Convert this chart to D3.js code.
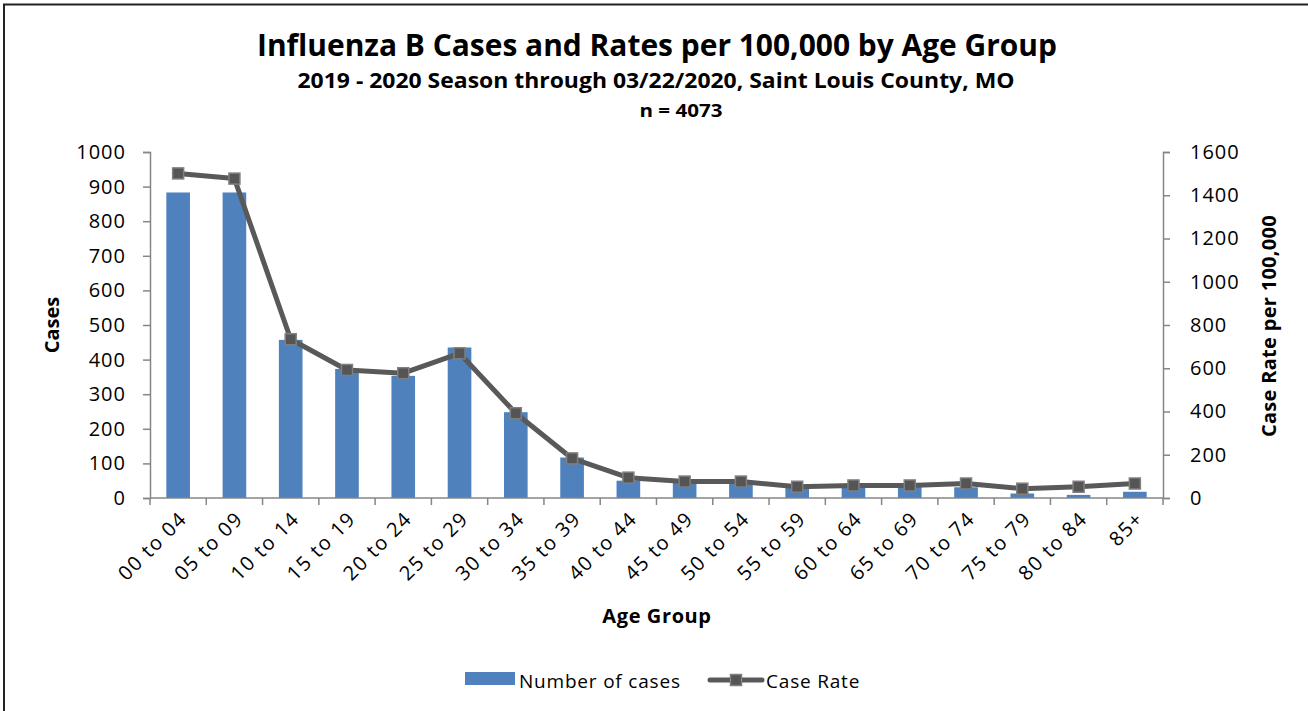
<!DOCTYPE html>
<html><head><meta charset="utf-8">
<script src="https://cdn.jsdelivr.net/npm/d3@7"></script>
<style>
html,body{margin:0;padding:0;background:#fff;}
svg{display:block;}
text{font-family:"Open Sans",sans-serif;fill:#000;}
</style></head>
<body>
<svg id="chart" width="1308" height="711"></svg>
<script>
const categories = ["00 to 04","05 to 09","10 to 14","15 to 19","20 to 24","25 to 29","30 to 34","35 to 39","40 to 44","45 to 49","50 to 54","55 to 59","60 to 64","65 to 69","70 to 74","75 to 79","80 to 84","85+"];
const cases = [883,883,457,373,353,435,248,117,50,47,47,31,35,35,31,13,9,18];
const rates = [1501,1477,734,592,577,669,392,183,94,76,76,52,58,58,67,43,52,67];
const casesTicks = [0,100,200,300,400,500,600,700,800,900,1000];
const rateTicks = [0,200,400,600,800,1000,1200,1400,1600];

(function(){
const svg = d3.select("#chart");
const pLeft = 150, pRight = 1163, pTop = 152, pBottom = 498;

// frame
svg.append("line").attr("x1",3).attr("x2",1308).attr("y1",4.5).attr("y2",4.5).attr("stroke","#222").attr("stroke-width",2);
svg.append("line").attr("x1",4).attr("x2",4).attr("y1",4).attr("y2",711).attr("stroke","#222").attr("stroke-width",2);

const x = d3.scaleBand().domain(categories).range([pLeft, pRight]).paddingInner(0.58).paddingOuter(0.29);
const yL = d3.scaleLinear().domain([0,1000]).range([pBottom, pTop]);
const yR = d3.scaleLinear().domain([0,1600]).range([pBottom, pTop]);

// titles
svg.append("text").attr("x",657).attr("y",56).attr("text-anchor","middle")
  .attr("font-size",30).attr("font-weight","bold")
  .attr("textLength",800).attr("lengthAdjust","spacingAndGlyphs")
  .text("Influenza B Cases and Rates per 100,000 by Age Group");
svg.append("text").attr("x",656).attr("y",88).attr("text-anchor","middle")
  .attr("font-size",21).attr("font-weight","bold")
  .attr("textLength",717).attr("lengthAdjust","spacingAndGlyphs")
  .text("2019  - 2020 Season through 03/22/2020, Saint Louis County, MO");
svg.append("text").attr("x",681).attr("y",117).attr("text-anchor","middle")
  .attr("font-size",17).attr("font-weight","bold")
  .attr("textLength",83).attr("lengthAdjust","spacingAndGlyphs")
  .text("n = 4073");

// bars
svg.append("g").selectAll("rect").data(categories).join("rect")
  .attr("x", d => x(d))
  .attr("width", x.bandwidth())
  .attr("y", (d,i) => yL(cases[i]))
  .attr("height", (d,i) => yL(0) - yL(cases[i]))
  .attr("fill", "#4F81BD");

// axes
const axisColor = "#868686";
const fmt = d3.format("d");
const gL = svg.append("g").attr("transform",`translate(${pLeft},0)`)
  .call(d3.axisLeft(yL).tickValues(casesTicks).tickFormat(fmt).tickSize(7).tickPadding(17));
const gR = svg.append("g").attr("transform",`translate(${pRight},0)`)
  .call(d3.axisRight(yR).tickValues(rateTicks).tickFormat(fmt).tickSize(7).tickPadding(20));
[gL,gR].forEach(g=>{
  g.select(".domain").attr("stroke",axisColor).attr("stroke-width",1.5);
  g.selectAll(".tick line").attr("stroke",axisColor).attr("stroke-width",1.5);
  g.selectAll(".tick text").attr("font-size",20).attr("letter-spacing",1)
    .attr("font-family","'Open Sans',sans-serif").attr("fill","#000");
});
gR.selectAll(".tick text").attr("text-anchor","start");

// bottom axis
const bx = svg.append("g").attr("transform",`translate(0,${pBottom})`);
bx.append("line").attr("x1",pLeft).attr("x2",pRight).attr("stroke",axisColor).attr("stroke-width",1.5);
const step = x.step();
const tickPos = d3.range(categories.length+1).map(i => pLeft + i*step);
bx.selectAll("line.t").data(tickPos).join("line").attr("class","t")
  .attr("x1",d=>d).attr("x2",d=>d).attr("y1",0).attr("y2",7)
  .attr("stroke",axisColor).attr("stroke-width",1.5);
bx.selectAll("text").data(categories).join("text")
  .attr("transform", d => `translate(${x(d)+x.bandwidth()/2+10},${22}) rotate(-45)`)
  .attr("text-anchor","end")
  .attr("font-size",20).attr("letter-spacing",1.5)
  .text(d=>d);

// line
const lineGen = d3.line().x((d,i)=>x(categories[i])+x.bandwidth()/2).y(d=>yR(d));
svg.append("path").datum(rates).attr("d",lineGen)
  .attr("fill","none").attr("stroke","#595959").attr("stroke-width",5).attr("stroke-linejoin","round");
svg.append("g").selectAll("rect").data(rates).join("rect")
  .attr("x",(d,i)=>x(categories[i])+x.bandwidth()/2-5.5)
  .attr("y",d=>yR(d)-5.5)
  .attr("width",11).attr("height",11)
  .attr("fill","#555555").attr("stroke","#7F7F7F").attr("stroke-width",1.5);

// axis titles
svg.append("text").attr("transform","translate(59,325) rotate(-90)").attr("text-anchor","middle")
  .attr("font-size",20).attr("font-weight","bold").text("Cases");
svg.append("text").attr("transform","translate(1276,326) rotate(-90)").attr("text-anchor","middle")
  .attr("font-size",20).attr("font-weight","bold").attr("letter-spacing",0.3).text("Case Rate per 100,000");
svg.append("text").attr("x",657).attr("y",623).attr("text-anchor","middle")
  .attr("font-size",20).attr("font-weight","bold").attr("letter-spacing",0.6).text("Age Group");

// legend
const lg = svg.append("g");
lg.append("rect").attr("x",465).attr("y",672).attr("width",50).attr("height",13).attr("fill","#4F81BD");
lg.append("text").attr("x",519).attr("y",688).attr("font-size",19).attr("letter-spacing",0.8).text("Number of cases");
lg.append("line").attr("x1",710).attr("x2",762).attr("y1",680).attr("y2",680).attr("stroke","#595959").attr("stroke-width",5).attr("stroke-linecap","round");
lg.append("rect").attr("x",730.5).attr("y",674.5).attr("width",11).attr("height",11).attr("fill","#555555").attr("stroke","#7F7F7F").attr("stroke-width",1.5);
lg.append("text").attr("x",766).attr("y",688).attr("font-size",19).attr("letter-spacing",0.8).text("Case Rate");
})();
</script>
</body></html>
